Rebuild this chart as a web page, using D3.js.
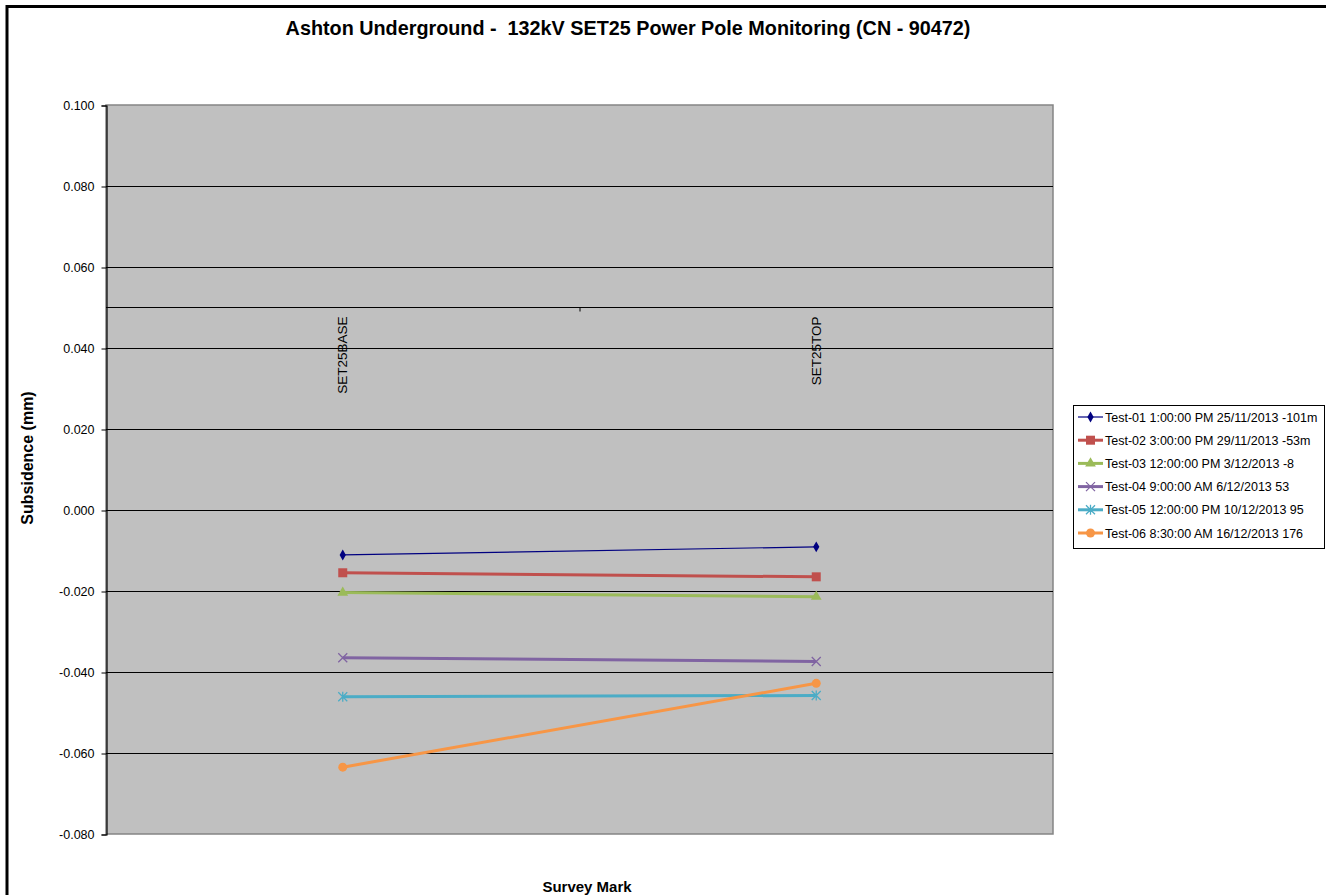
<!DOCTYPE html>
<html>
<head>
<meta charset="utf-8">
<script src="https://cdn.jsdelivr.net/npm/d3@7/dist/d3.min.js"></script>
<style>
  html, body { margin: 0; padding: 0; background: #fff; }
  svg { display: block; font-family: "Liberation Sans", Arial, sans-serif; }
  text { white-space: pre; }
</style>
</head>
<body>
<svg id="chart" width="1326" height="895"></svg>
<script>
// Survey marks along the category axis
const categories = ["SET25BASE", "SET25TOP"];

// Series names as shown in the legend
const seriesNames = [
  "Test-01 1:00:00 PM 25/11/2013 -101m",
  "Test-02 3:00:00 PM 29/11/2013 -53m",
  "Test-03 12:00:00 PM 3/12/2013 -8",
  "Test-04 9:00:00 AM 6/12/2013 53",
  "Test-05 12:00:00 PM 10/12/2013 95",
  "Test-06 8:30:00 AM 16/12/2013 176"
];

// Subsidence (mm) at each survey mark, one array per test
const test01 = [-0.0111, -0.0091];
const test02 = [-0.0155, -0.0165];
const test03 = [-0.0204, -0.0214];
const test04 = [-0.0365, -0.0374];
const test05 = [-0.0461, -0.0458];
const test06 = [-0.0635, -0.0428];
const seriesValues = [test01, test02, test03, test04, test05, test06];

// Value-axis ticks
const yTicks = [0.100, 0.080, 0.060, 0.040, 0.020, 0.000, -0.020, -0.040, -0.060, -0.080];
// Value where the category axis crosses
const categoryAxisCrossing = 0.05;

const colors = ["#000080", "#C0504D", "#9BBB59", "#8064A2", "#4BACC6", "#F79646"];
const widths = [1.2, 3, 3, 3, 3, 3];
const markers = ["diamond", "square", "triangle", "x", "star", "circle"];

const svg = d3.select("#chart");

// Outer chart frame (top and left edges)
svg.append("line").attr("x1", 7).attr("x2", 1326).attr("y1", 6.5).attr("y2", 6.5)
  .attr("stroke", "#000").attr("stroke-width", 3);
svg.append("line").attr("x1", 7).attr("x2", 7).attr("y1", 5).attr("y2", 895)
  .attr("stroke", "#000").attr("stroke-width", 3);

const plot = { left: 106, right: 1053, top: 105, bottom: 834 };

const x = d3.scaleBand().domain(categories).range([plot.left, plot.right]);
const y = d3.scaleLinear().domain([-0.08, 0.10]).range([plot.bottom, plot.top]);

// Plot area background
svg.append("rect")
  .attr("x", plot.left).attr("y", plot.top)
  .attr("width", plot.right - plot.left).attr("height", plot.bottom - plot.top)
  .attr("fill", "#C0C0C0")
  .attr("stroke", "#858585").attr("stroke-width", 1.5);

// Horizontal gridlines
svg.append("g").selectAll("line")
  .data(yTicks.filter(d => d > -0.08 && d < 0.10))
  .join("line")
  .attr("x1", plot.left).attr("x2", plot.right)
  .attr("y1", d => Math.round(y(d)) + 0.5).attr("y2", d => Math.round(y(d)) + 0.5)
  .attr("stroke", "#000").attr("stroke-width", 1);

// Value axis
const yAxis = d3.axisLeft(y).tickValues(yTicks).tickFormat(d3.format(".3f")).tickSize(5).tickPadding(7);
const yg = svg.append("g").attr("transform", `translate(${plot.left + 0.5},0.5)`).call(yAxis);
yg.select(".domain").attr("stroke", "#000").attr("stroke-width", 1.2);
yg.selectAll(".tick line").attr("stroke", "#000");
yg.selectAll(".tick text")
  .attr("font-family", "Liberation Sans, Arial, sans-serif")
  .attr("font-size", 12.5).attr("fill", "#000")
  .text(d => d3.format(".3f")(d).replace("−", "-"));

// Category axis, crossing at 0.05
const yc = Math.round(y(categoryAxisCrossing)) + 0.5;
svg.append("line").attr("x1", plot.left).attr("x2", plot.right)
  .attr("y1", yc).attr("y2", yc).attr("stroke", "#000").attr("stroke-width", 1);
// Tick at the boundary between categories
svg.append("g").selectAll("line")
  .data(categories.slice(1))
  .join("line")
  .attr("x1", d => x(d) + 0.5).attr("x2", d => x(d) + 0.5)
  .attr("y1", yc).attr("y2", yc + 4)
  .attr("stroke", "#000");
// Rotated category labels
svg.append("g").selectAll("text")
  .data(categories)
  .join("text")
  .attr("transform", d => `translate(${x(d) + x.bandwidth() / 2 + 4.5},${yc + 9}) rotate(-90)`)
  .attr("text-anchor", "end")
  .attr("font-size", 13.5)
  .attr("fill", "#000")
  .text(d => d);

// Marker shapes
function drawMarker(g, type, color, cx, cy) {
  if (type === "diamond") {
    g.append("path").attr("d", d3.symbol(d3.symbolDiamond, 34)()).attr("transform", `translate(${cx},${cy})`)
      .attr("fill", color);
  } else if (type === "square") {
    g.append("rect").attr("x", cx - 4.5).attr("y", cy - 4.5).attr("width", 9).attr("height", 9).attr("fill", color);
  } else if (type === "triangle") {
    g.append("path").attr("d", d3.symbol(d3.symbolTriangle, 50)()).attr("transform", `translate(${cx},${cy})`)
      .attr("fill", color);
  } else if (type === "x") {
    g.append("path").attr("d", `M${cx - 4.5},${cy - 4.5}L${cx + 4.5},${cy + 4.5}M${cx - 4.5},${cy + 4.5}L${cx + 4.5},${cy - 4.5}`)
      .attr("stroke", color).attr("stroke-width", 1.3).attr("fill", "none");
  } else if (type === "star") {
    g.append("path").attr("d", `M${cx - 4.5},${cy - 4.5}L${cx + 4.5},${cy + 4.5}M${cx - 4.5},${cy + 4.5}L${cx + 4.5},${cy - 4.5}M${cx},${cy - 5}L${cx},${cy + 5}`)
      .attr("stroke", color).attr("stroke-width", 1.3).attr("fill", "none");
  } else if (type === "circle") {
    g.append("circle").attr("cx", cx).attr("cy", cy).attr("r", 4.5).attr("fill", color);
  }
}

// Series lines and markers
const line = d3.line().x((d, i) => x(categories[i]) + x.bandwidth() / 2).y(d => y(d));
seriesValues.forEach((vals, s) => {
  const g = svg.append("g");
  g.append("path").datum(vals).attr("d", line)
    .attr("fill", "none").attr("stroke", colors[s]).attr("stroke-width", widths[s]);
  vals.forEach((v, i) => drawMarker(g, markers[s], colors[s], x(categories[i]) + x.bandwidth() / 2, y(v)));
});

// Legend
const legend = svg.append("g");
legend.append("rect").attr("x", 1073.5).attr("y", 405.5).attr("width", 251).attr("height", 143)
  .attr("fill", "#fff").attr("stroke", "#000").attr("stroke-width", 1);
seriesNames.forEach((name, s) => {
  const ly = 417 + s * 23.2;
  legend.append("line").attr("x1", 1078).attr("x2", 1103).attr("y1", ly).attr("y2", ly)
    .attr("stroke", colors[s]).attr("stroke-width", widths[s]);
  drawMarker(legend, markers[s], colors[s], 1090.5, ly);
  legend.append("text").attr("x", 1105).attr("y", ly + 4.5)
    .attr("font-size", 12.5).attr("fill", "#000").text(name);
});

// Title
svg.append("text").attr("x", 628).attr("y", 35).attr("text-anchor", "middle")
  .attr("font-size", 19.8).attr("font-weight", "bold").attr("fill", "#000")
  .text("Ashton Underground -  132kV SET25 Power Pole Monitoring (CN - 90472)");

// Axis titles
svg.append("text").attr("transform", "translate(33,458) rotate(-90)").attr("text-anchor", "middle")
  .attr("font-size", 16).attr("font-weight", "bold").attr("fill", "#000")
  .text("Subsidence (mm)");
svg.append("text").attr("x", 587).attr("y", 892).attr("text-anchor", "middle")
  .attr("font-size", 15).attr("font-weight", "bold").attr("fill", "#000")
  .text("Survey Mark");
</script>
</body>
</html>
